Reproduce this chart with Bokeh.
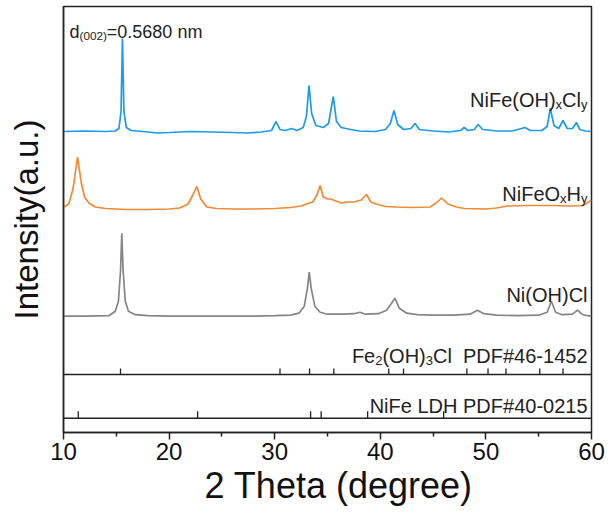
from bokeh.plotting import figure
from bokeh.models import Range1d, ColumnDataSource, Span, FixedTicker, Title
from bokeh.core.properties import value
from bokeh.embed import file_html
from bokeh.resources import INLINE

# ---------------- data ----------------
blue_2theta = [10.0, 12.0, 14.0, 14.9, 15.25, 15.45, 15.58, 15.72, 15.95, 16.4, 17.5, 18.9, 20.0, 22.0,
               24.0, 26.0, 27.5, 28.7, 29.7, 30.13, 30.5, 31.0, 31.6, 32.1, 32.7, 33.0, 33.25, 33.5,
               33.9, 34.6, 35.1, 35.55, 35.85, 36.3, 37.2, 38.0, 39.5, 40.5, 40.95, 41.3, 41.65, 42.2,
               42.9, 43.3, 43.7, 45.0, 46.5, 47.6, 47.94, 48.3, 48.9, 49.26, 49.7, 51.0, 52.5, 53.7,
               54.2, 55.3, 55.8, 56.1, 56.45, 56.9, 57.3, 57.7, 58.2, 58.57, 58.9, 59.4, 60.0]
blue_int = [0, 0.5, 0, 0.5, 3, 20, 93, 20, 4, 1, 0, -1.5, -1, 0,
            -0.5, -1, -1.5, -0.5, 1, 10, 2, 1, 3, 1, 4, 15, 46, 18,
            6, 4, 8, 35, 10, 4, 2, 0.5, 0, 2, 8, 21, 7, 2,
            3, 8, 2, 0.5, -0.5, 1, 4, 1, 2, 7, 2, 0.5, 0.5, 4,
            1, 1, 5, 23, 6, 3, 11, 3, 3, 9, 2, 0.5, 0]

orange_2theta = [10.0, 10.5, 10.9, 11.33, 11.7, 12.0, 12.4, 13.0, 14.0, 16.0, 18.0, 20.0, 21.0, 21.8,
                 22.2, 22.62, 23.0, 23.57, 24.5, 26.0, 28.0, 30.0, 31.5, 32.5, 33.0, 33.6, 34.0, 34.3,
                 34.6, 35.0, 35.3, 35.8, 36.3, 36.8, 37.5, 38.2, 38.7, 39.1, 39.6, 40.5, 41.5, 43.0,
                 44.7, 45.3, 45.8, 46.4, 47.2, 48.0, 50.0, 51.0, 52.0, 54.0, 56.0, 58.0, 59.2, 59.6, 60.0]
orange_int = [1.8, 5, 20, 52, 25, 12, 6, 2, 0.5, -0.5, -0.5, 0, 1, 5,
              13, 22.5, 10, 2, 0.5, 0, 0, 0.5, 1.5, 3, 5, 7, 14, 23.5,
              12, 10, 10, 8, 6, 7, 7, 9, 14.5, 7, 5, 2.5, 2, 1.5,
              2, 6, 11, 5, 2, 0.5, 0, 1, 3, 3.5, 3.5, 3, 3.5, 6, 9]

gray_2theta = [10.0, 12.0, 14.3, 14.9, 15.2, 15.4, 15.52, 15.65, 15.85, 16.15, 16.8, 18.0, 20.0, 25.0,
               28.0, 30.0, 31.5, 32.3, 32.8, 33.1, 33.27, 33.45, 33.8, 34.3, 35.0, 36.5, 37.5, 38.07,
               38.6, 39.8, 40.6, 41.0, 41.38, 41.8, 42.5, 43.5, 45.0, 47.0, 48.5, 49.2, 49.8, 51.0,
               53.0, 55.0, 55.8, 56.2, 56.6, 57.2, 58.2, 58.67, 59.1, 59.6, 60.0]
gray_int = [0, 0, 0.5, 5, 15, 45, 83, 45, 15, 5, 1.5, 0.5, 0, 0,
            0, 0.5, 1, 3, 10, 28, 44, 28, 10, 4, 2, 2, 2.5, 4,
            2, 2.5, 6, 12, 18, 8, 3, 1.5, 1, 1, 2, 6, 2.5, 1,
            0.5, 1, 4, 15, 4, 1.5, 2, 6, 2, 0.5, 0]

fe2_pdf_2theta = [15.4, 30.5, 33.3, 35.6, 40.8, 42.2, 48.2, 50.2, 51.9, 55.1, 57.3]
ldh_pdf_2theta = [11.4, 22.7, 33.4, 34.4, 38.8, 46.0]

x_ticks = [10, 20, 30, 40, 50, 60]
x_minor_ticks = [15, 25, 35, 45, 55]

# ---------------- layout constants (screen-ish units above the x axis) ----------------
OFF_BLUE, OFF_ORANGE, OFF_GRAY = 301.0, 223.5, 116.3
FE2_BASE, LDH_BASE = 58.0, 14.3
FE2_STICK, LDH_STICK = 6.0, 7.0

BLUE, ORANGE, GRAY = "#1e9be8", "#ef8a33", "#858585"
INK = "#222222"
FONT = "Liberation Sans"

p = figure(width=610, height=524, output_backend="svg", toolbar_location=None,
           x_range=Range1d(10, 60), y_range=Range1d(0, 426),
           min_border_left=63, min_border_right=19, min_border_top=6, min_border_bottom=92)
p.grid.visible = False
p.background_fill_color = "white"
p.border_fill_color = "white"
p.outline_line_color = INK
p.outline_line_width = 1.5

# traces
def shifted(vals, off):
    return [v + off for v in vals]

p.line(blue_2theta, shifted(blue_int, OFF_BLUE), line_color=BLUE, line_width=1.7)
p.line(orange_2theta, shifted(orange_int, OFF_ORANGE), line_color=ORANGE, line_width=1.7)
p.line(gray_2theta, shifted(gray_int, OFF_GRAY), line_color=GRAY, line_width=1.7)

# reference panels
for yb in (FE2_BASE, LDH_BASE):
    p.add_layout(Span(location=yb, dimension="width", line_color=INK, line_width=1.5))

fe2_src = ColumnDataSource(dict(x=fe2_pdf_2theta,
                                y0=[FE2_BASE] * len(fe2_pdf_2theta),
                                y1=[FE2_BASE + FE2_STICK] * len(fe2_pdf_2theta)))
ldh_src = ColumnDataSource(dict(x=ldh_pdf_2theta,
                                y0=[LDH_BASE] * len(ldh_pdf_2theta),
                                y1=[LDH_BASE + LDH_STICK] * len(ldh_pdf_2theta)))
p.segment(x0="x", y0="y0", x1="x", y1="y1", source=fe2_src, line_color=INK, line_width=1.3)
p.segment(x0="x", y0="y0", x1="x", y1="y1", source=ldh_src, line_color=INK, line_width=1.3)

# ---------------- rich text with subscripts ----------------
AW = {' ': 278, '#': 556, '(': 333, ')': 333, '-': 333, '.': 278, '=': 584,
      'C': 722, 'D': 722, 'F': 611, 'H': 722, 'L': 556, 'N': 722, 'O': 778, 'P': 667,
      'a': 556, 'd': 556, 'e': 556, 'i': 222, 'l': 222, 'm': 833, 'n': 556, 'x': 500, 'y': 500}
def tw(s, size):
    return sum(AW.get(c, 556) for c in s) / 1000.0 * size

def rich(xd, yd, segs, size, align="right", dx=0.0, sub_scale=0.65, sub_drop=0.24):
    sub_size = size * sub_scale
    widths = [tw(t, sub_size if s else size) for t, s in segs]
    cur = dx - sum(widths) if align == "right" else dx
    main = dict(x=[], y=[], t=[], xo=[], yo=[])
    sub = dict(x=[], y=[], t=[], xo=[], yo=[])
    for (t, s), w in zip(segs, widths):
        if t.strip():
            d = sub if s else main
            d["x"].append(xd); d["y"].append(yd); d["t"].append(t)
            d["xo"].append(cur); d["yo"].append(size * sub_drop if s else 0.0)
        cur += w
    for d, fs in ((main, size), (sub, sub_size)):
        if d["t"]:
            p.text(x="x", y="y", text="t", x_offset="xo", y_offset="yo",
                   source=ColumnDataSource(d), text_font=value(FONT),
                   text_font_size=f"{fs:.1f}px", text_color=INK,
                   text_align="left", text_baseline="alphabetic")

RX = 60.0
rich(RX, OFF_BLUE + 32, [("NiFe(OH)", False), ("x", True), ("Cl", False), ("y", True)], 20, dx=-4)
rich(RX, OFF_ORANGE + 15.5, [("NiFeO", False), ("x", True), ("H", False), ("y", True)], 20, dx=-4)
rich(RX, OFF_GRAY + 21, [("Ni(OH)Cl", False)], 20, dx=-4)
rich(RX, FE2_BASE + 19, [("Fe", False), ("2", True), ("(OH)", False), ("3", True), ("Cl", False),
                         ("  ", False), ("PDF#46-1452", False)], 20, dx=-4)
rich(RX, LDH_BASE + 12.7, [("NiFe LDH PDF#40-0215", False)], 20, dx=-4)
rich(10.0, 401, [("d", False), ("(002)", True), ("=0.5680 nm", False)], 18, align="left", dx=6)

# ---------------- axes ----------------
xa = p.xaxis[0]
xa.ticker = FixedTicker(ticks=x_ticks, minor_ticks=x_minor_ticks)
xa.major_label_text_font = FONT
xa.major_label_text_font_size = "24px"
xa.major_label_text_color = "#111111"
xa.major_label_standoff = 3
xa.axis_line_color = INK
xa.axis_line_width = 1.5
xa.major_tick_line_color = INK
xa.major_tick_line_width = 1.5
xa.major_tick_in = 0
xa.major_tick_out = 7
xa.minor_tick_line_color = INK
xa.minor_tick_line_width = 1.5
xa.minor_tick_in = 0
xa.minor_tick_out = 4

xt = Title(text="2 Theta (degree)", align="left", offset=141, standoff=0,
           text_font=FONT, text_font_size="36px", text_font_style="normal", text_color="#111111")
p.add_layout(xt, "below")

ya = p.yaxis[0]
ya.ticker = FixedTicker(ticks=[])
ya.axis_label = "Intensity(a.u.)"
ya.axis_label_text_font = FONT
ya.axis_label_text_font_style = "normal"
ya.axis_label_text_font_size = "33px"
ya.axis_label_text_color = "#111111"
ya.axis_label_standoff = 19
ya.axis_line_color = INK
ya.axis_line_width = 1.5
ya.major_label_text_font_size = "0px"

open("out.html", "w").write(file_html(p, INLINE))
